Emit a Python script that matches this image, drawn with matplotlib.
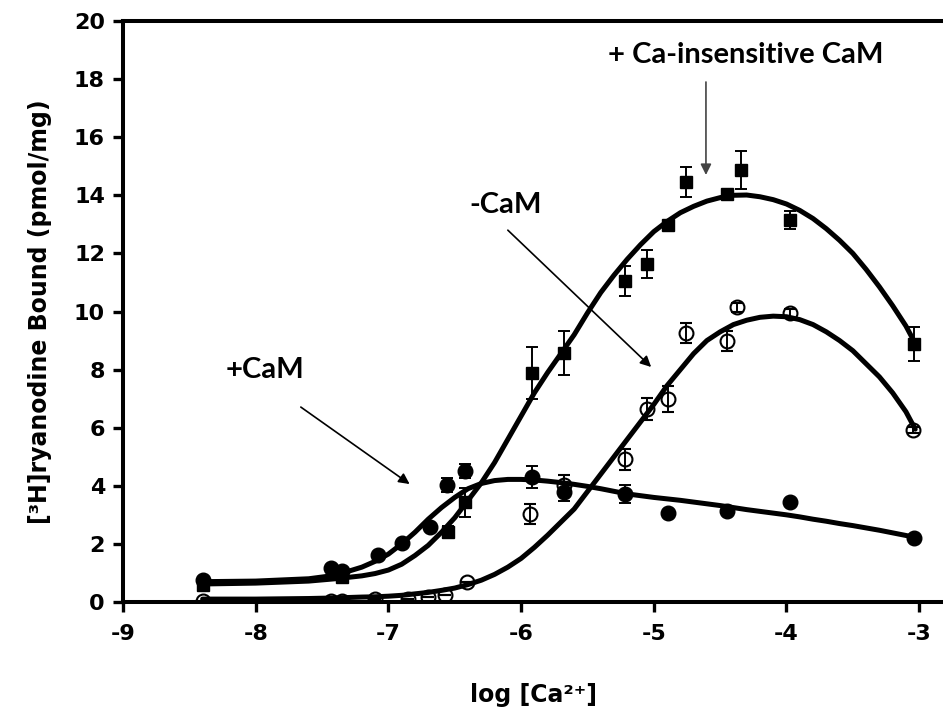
import matplotlib
matplotlib.use("Agg")
import matplotlib.pyplot as plt

# pontos medidos: + CaM insensivel ao Ca (quadrados cheios)
x_quad = [-8.4, -7.35, -6.55, -6.42, -5.92, -5.68, -5.22, -5.05, -4.89, -4.76, -4.45, -4.34, -3.97, -3.04]
y_quad = [0.6, 0.85, 2.41, 3.44, 7.88, 8.57, 11.05, 11.63, 12.98, 14.46, 14.05, 14.87, 13.15, 8.88]
e_quad = [0.0, 0.1, 0.2, 0.5, 0.9, 0.76, 0.53, 0.49, 0.15, 0.53, 0.1, 0.66, 0.3, 0.59]

# -CaM (circulos abertos)
x_aberto = [-8.4, -7.43, -7.35, -7.1, -6.85, -6.7, -6.57, -6.41, -5.93, -5.68, -5.22, -5.05, -4.89, -4.76, -4.45, -4.37, -3.97, -3.05]
y_aberto = [0.05, 0.05, 0.05, 0.1, 0.1, 0.17, 0.24, 0.69, 3.03, 4.03, 4.92, 6.64, 6.99, 9.26, 8.98, 10.15, 9.94, 5.92]
e_aberto = [0, 0, 0, 0, 0, 0, 0, 0, 0.36, 0.35, 0.36, 0.38, 0.45, 0.35, 0.35, 0.15, 0.15, 0.1]

# +CaM (circulos cheios)
x_cheio = [-8.4, -7.43, -7.35, -7.08, -6.9, -6.69, -6.56, -6.42, -5.92, -5.68, -5.22, -4.89, -4.45, -3.97, -3.04]
y_cheio = [0.75, 1.17, 1.05, 1.62, 2.03, 2.58, 4.03, 4.51, 4.30, 3.79, 3.72, 3.06, 3.13, 3.44, 2.2]
e_cheio = [0, 0, 0, 0, 0, 0, 0.25, 0.25, 0.38, 0.3, 0.3, 0, 0, 0, 0]

# curvas ajustadas
x_curva = [-8.4, -8.0, -7.6, -7.4, -7.2, -7.1, -7.0, -6.9, -6.8, -6.7, -6.6, -6.5, -6.4, -6.3, -6.2, -6.1,
           -6.0, -5.9, -5.8, -5.7, -5.6, -5.5, -5.4, -5.3, -5.2, -5.1, -5.0, -4.9, -4.8, -4.7, -4.6,
           -4.5, -4.4, -4.3, -4.2, -4.1, -4.0, -3.9, -3.8, -3.7, -3.6, -3.5, -3.4, -3.3, -3.2, -3.1, -3.03]
c_quad = [0.62, 0.65, 0.72, 0.8, 0.9, 0.98, 1.1, 1.3, 1.6, 1.95, 2.4, 2.9, 3.5, 4.1, 4.8, 5.6,
          6.4, 7.2, 7.9, 8.55, 9.2, 9.95, 10.65, 11.25, 11.8, 12.3, 12.75, 13.1, 13.4, 13.62, 13.8,
          13.92, 14.0, 14.01, 13.95, 13.85, 13.7, 13.48, 13.2, 12.85, 12.45, 12.0, 11.45, 10.85, 10.2, 9.5, 8.9]
c_aberto = [0.1, 0.1, 0.12, 0.14, 0.17, 0.18, 0.2, 0.23, 0.28, 0.33, 0.4, 0.48, 0.6, 0.75, 0.95, 1.2,
            1.5, 1.88, 2.3, 2.75, 3.2, 3.8, 4.4, 5.0, 5.6, 6.2, 6.8, 7.45, 8.0, 8.55, 9.0,
            9.3, 9.55, 9.7, 9.8, 9.84, 9.82, 9.72, 9.55, 9.3, 9.0, 8.65, 8.2, 7.75, 7.2, 6.55, 5.95]
c_cheio = [0.7, 0.72, 0.8, 0.92, 1.2, 1.4, 1.65, 2.0, 2.4, 2.85, 3.25, 3.6, 3.9, 4.08, 4.18, 4.22,
           4.22, 4.2, 4.16, 4.11, 4.05, 3.98, 3.9, 3.81, 3.72, 3.66, 3.6, 3.55, 3.5, 3.44, 3.38,
           3.32, 3.25, 3.18, 3.12, 3.06, 3.0, 2.93, 2.85, 2.78, 2.7, 2.63, 2.55, 2.47, 2.38, 2.29, 2.22]

x_ticks = [-9, -8, -7, -6, -5, -4, -3]
y_ticks = [0, 2, 4, 6, 8, 10, 12, 14, 16, 18, 20]

plt.rcParams['font.family'] = ['DejaVu Sans']
plt.rcParams['font.weight'] = 'bold'
plt.rcParams['axes.unicode_minus'] = False

fig = plt.figure(figsize=(9.43, 7.17), dpi=100)
ax = fig.add_axes([123 / 943, 115 / 717, 820 / 943, 581 / 717])

# curvas
for c in (c_quad, c_aberto, c_cheio):
    ax.plot(x_curva, c, color='black', lw=3.6, solid_capstyle='round', solid_joinstyle='round', zorder=3)

# pontos com barras de erro
ax.errorbar(x_quad, y_quad, yerr=e_quad, fmt='s', ms=9, color='black', ecolor='black',
            elinewidth=1.4, capsize=4, capthick=1.4, zorder=4)
ax.errorbar(x_cheio, y_cheio, yerr=e_cheio, fmt='o', ms=10.5, color='black', ecolor='black',
            elinewidth=1.4, capsize=4, capthick=1.4, zorder=4)
ax.errorbar(x_aberto, y_aberto, yerr=e_aberto, fmt='o', ms=10, mfc='none', mec='black', mew=1.5,
            ecolor='black', elinewidth=1.4, capsize=4, capthick=1.4, zorder=5)

# eixos
ax.set_xlim(-9, -9 + 820 / 132.7)
ax.set_ylim(0, 20)
ax.set_xticks(x_ticks)
ax.set_yticks(y_ticks)
ax.tick_params(direction='out', length=7, width=2.4, labelsize=16)
ax.tick_params(axis='x', pad=9)
ax.tick_params(axis='y', pad=6)
for s in ('left', 'bottom', 'top'):
    ax.spines[s].set_linewidth(2.9)
ax.spines['right'].set_visible(False)

ax.set_xlabel('log [Ca²⁺]', fontsize=17, fontweight='bold', labelpad=28)
ax.set_ylabel('[³H]ryanodine Bound (pmol/mg)', fontsize=17, fontweight='bold', labelpad=16)

# textos e setas
fonte = dict(family='Lato', fontweight='bold', fontsize=21, ha='center', va='center')
ax.text(-4.31, 18.83, '+ Ca-insensitive CaM', **fonte)
ax.text(-6.12, 13.67, '-CaM', **fonte)
ax.text(-7.93, 7.99, '+CaM', **fonte)

seta = dict(arrowstyle='-|>', color='black', lw=1.2, mutation_scale=16, shrinkA=0, shrinkB=0)
ax.annotate('', xy=(-4.607, 14.7), xytext=(-4.607, 17.9), arrowprops=dict(seta, color='#444444'))
ax.annotate('', xy=(-5.02, 8.09), xytext=(-6.1, 12.8), arrowprops=seta)
ax.annotate('', xy=(-6.84, 4.06), xytext=(-7.66, 6.71), arrowprops=seta)

fig.savefig('out.png', dpi=100)
